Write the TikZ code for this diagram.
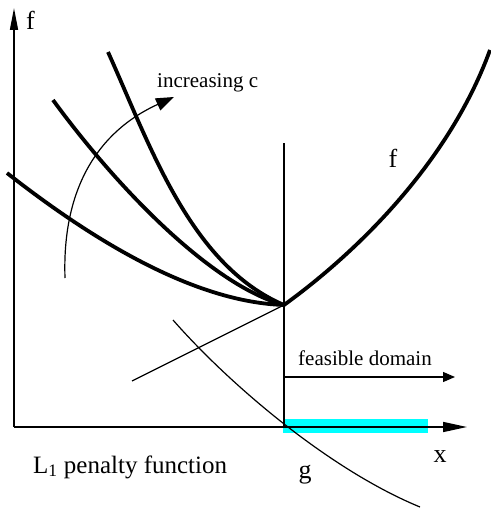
\documentclass[tikz,border=0pt]{standalone}
\usepackage{fontspec}
\setmainfont{Liberation Serif}
\usetikzlibrary{arrows.meta}
\definecolor{feascyan}{RGB}{0,255,255}
\tikzset{
  axis/.style={line width=1.6pt},
  thinline/.style={line width=1.2pt},
  thickcurve/.style={line width=3.8pt},
  lbl/.style={inner sep=0pt, font=\fontsize{26}{30}\selectfont},
  txt/.style={inner sep=0pt, font=\fontsize{21}{25}\selectfont},
}
\begin{document}
\begin{tikzpicture}[x=1pt,y=-1pt]
\useasboundingbox (0,0) rectangle (490,508);
% coordinates
\coordinate (O) at (14,427);
\coordinate (ytop) at (14,8);
\coordinate (xend) at (467,427);
\coordinate (M) at (284,305);
\coordinate (vtop) at (284,143);
\coordinate (vbot) at (284,427);
\coordinate (fs) at (284,377);
\coordinate (fe) at (455,377);
\coordinate (tl) at (132,381);
\coordinate (gs) at (173,320);
\coordinate (ge) at (420,507);
\coordinate (c1) at (7,173);
\coordinate (c2) at (53,100);
\coordinate (c3) at (108,52);
\coordinate (fr) at (490,50);
\coordinate (as) at (65,278);
\coordinate (ae) at (174,97);
% feasible region band
\fill[feascyan] (283,419) rectangle (428,433);
% axes
\draw[axis,-{Triangle[length=22pt,width=8pt]}] (O) -- (ytop);
\draw[axis,-{Triangle[length=24pt,width=10pt]}] (O) -- (xend);
% vertical constraint line
\draw[thinline] (vtop) -- (vbot);
% feasible domain arrow
\draw[thinline,-{Triangle[length=12pt,width=10pt]}] (fs) -- (fe);
% tangent (L1 penalty) line
\draw[thinline] (tl) -- (M);
% constraint g
\draw[thinline] (gs) .. controls (230,385) and (330,470) .. (ge);
% penalized curves
\draw[thickcurve] (c1) .. controls (95,242) and (195,302) .. (M);
\draw[thickcurve] (c2) .. controls (115,185) and (210,285) .. (M);
\draw[thickcurve] (c3) .. controls (150,145) and (190,265) .. (M);
\draw[thickcurve] (M) .. controls (360,250) and (450,160) .. (fr);
% increasing c arrow
\draw[thinline,-{Triangle[length=18pt,width=13pt]}] (as) .. controls (62,190) and (97,132) .. (ae);
% labels
\node[lbl,anchor=base west] (lf) at (26,30) {f};
\node[txt,anchor=base west] (linc) at (157,88) {increasing c};
\node[lbl,anchor=base] (lf2) at (393,167) {f};
\node[txt,anchor=base west] (lfeas) at (298,365) {feasible domain};
\node[lbl,anchor=base] (lx) at (440,462) {x};
\node[lbl,anchor=base] (lg) at (305,478) {g};
\node[inner sep=0pt,anchor=base west,font=\fontsize{25}{29}\selectfont] (lpen) at (33,473) {L\textsubscript{1} penalty function};
\end{tikzpicture}
\end{document}
